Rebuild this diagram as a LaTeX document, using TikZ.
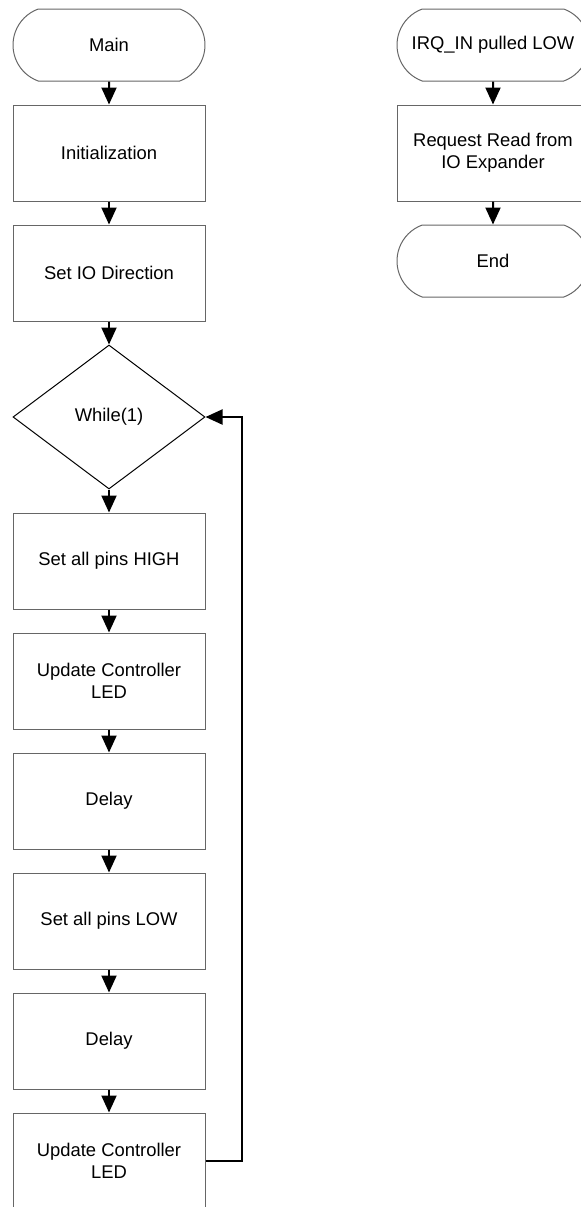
\documentclass[tikz,border=0pt]{standalone}
\usepackage{fontspec}
\setmainfont{Liberation Sans}
\usetikzlibrary{arrows.meta,shapes.geometric,shapes.misc}

\begin{document}
\begin{tikzpicture}[x=0.5pt,y=-0.5pt,>={Triangle[length=8.5pt,width=7.5pt]},
  every node/.style={font=\fontsize{9.2}{11}\selectfont,align=center,inner sep=0pt},
  term/.style={draw=black!60,line width=0.5pt,rounded rectangle,rounded rectangle arc length=140,minimum width=96pt,minimum height=36pt},
  proc/.style={draw=black!60,line width=0.5pt,rectangle,minimum width=96pt,minimum height=48pt},
  cond/.style={draw=black,line width=0.5pt,diamond,minimum width=96pt,minimum height=72pt},
  flow/.style={->,line width=1pt}]
  \useasboundingbox (0,0) rectangle (580,1207);
  % main program
  \node[term] (main) at (109,45) {Main};
  \node[proc] (init) at (109,153) {Initialization};
  \node[proc] (iodir) at (109,273) {Set IO Direction};
  \node[cond] (whileloop) at (109,417) {While(1)};
  \node[proc] (pinshigh) at (109,561) {Set all pins HIGH};
  \node[proc] (updone) at (109,681) {Update Controller\\LED};
  \node[proc] (delayone) at (109,801) {Delay};
  \node[proc] (pinslow) at (109,921) {Set all pins LOW};
  \node[proc] (delaytwo) at (109,1041) {Delay};
  \node[proc] (updtwo) at (109,1161) {Update Controller\\LED};
  \draw[flow] (main) -- (init);
  \draw[flow] (init) -- (iodir);
  \draw[flow] (iodir) -- (whileloop);
  \draw[flow] (whileloop) -- (pinshigh);
  \draw[flow] (pinshigh) -- (updone);
  \draw[flow] (updone) -- (delayone);
  \draw[flow] (delayone) -- (pinslow);
  \draw[flow] (pinslow) -- (delaytwo);
  \draw[flow] (delaytwo) -- (updtwo);
  % back to the loop
  \draw[flow] (updtwo.east) -- ++(36,0) |- (whileloop.east);
  % interrupt
  \node[term] (irq) at (493,45) {IRQ\_IN pulled LOW};
  \node[proc] (readexp) at (493,153) {Request Read from\\IO Expander};
  \node[term] (stop) at (493,261) {End};
  \draw[flow] (irq) -- (readexp);
  \draw[flow] (readexp) -- (stop);
\end{tikzpicture}
\end{document}
